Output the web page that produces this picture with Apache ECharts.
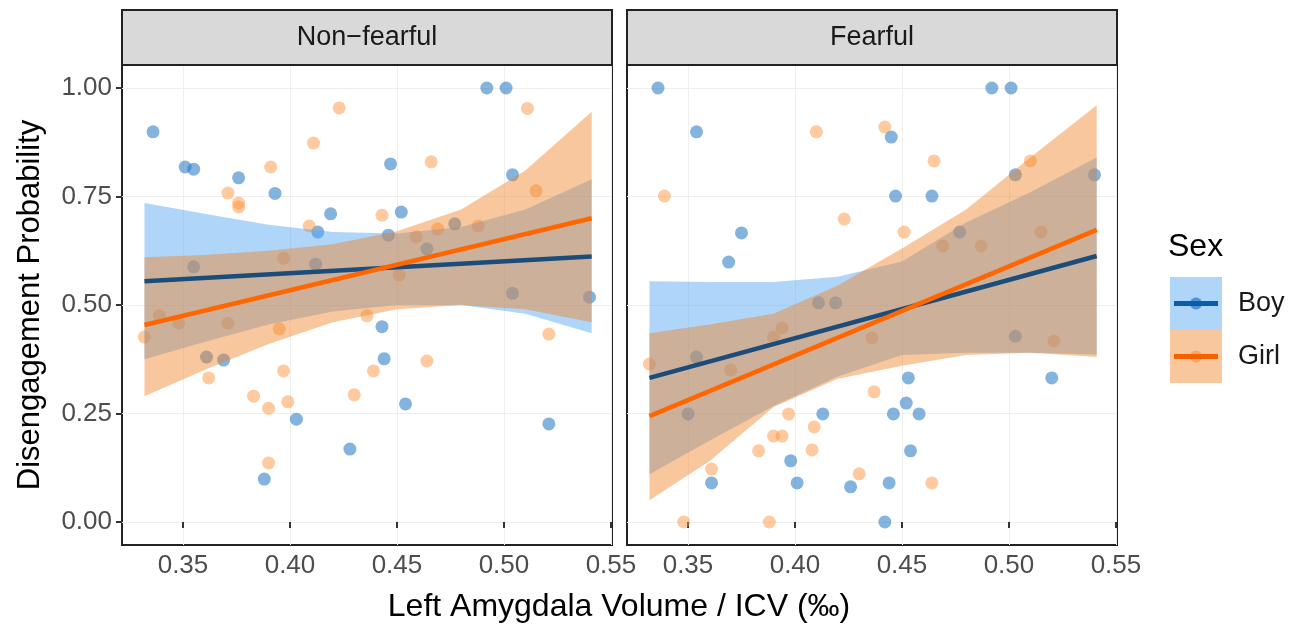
<!DOCTYPE html>
<html>
<head>
<meta charset="utf-8">
<script src="https://cdn.jsdelivr.net/npm/echarts@6/dist/echarts.min.js"></script>
<style>
html,body{margin:0;padding:0;background:#fff}
#chart{width:1295px;height:630px}
</style>
</head>
<body>
<div id="chart"></div>
<script>
// facets and ticks
const panels = ['Non\u2212fearful', 'Fearful'];
const xTicks = [0.35, 0.40, 0.45, 0.50, 0.55];
const yTicks = [0, 0.25, 0.5, 0.75, 1];

// Non-fearful points
const nfBoyX = [0.336,0.351,0.355,0.376,0.393,0.419,0.413,0.447,0.452,0.492,0.501,0.540,0.443,0.444,0.454,0.521,0.428,0.369,0.403,0.388,0.504,0.504,0.446,0.477,0.355,0.412,0.361,0.464];
const nfBoyY = [0.899,0.818,0.813,0.793,0.757,0.710,0.668,0.825,0.714,1.000,1.000,0.518,0.450,0.376,0.272,0.226,0.168,0.373,0.237,0.099,0.800,0.527,0.661,0.687,0.588,0.594,0.380,0.629];
const nfGirlX = [0.511,0.466,0.443,0.423,0.411,0.391,0.371,0.376,0.376,0.409,0.332,0.339,0.348,0.371,0.395,0.362,0.397,0.383,0.390,0.390,0.430,0.436,0.439,0.464,0.521,0.469,0.459,0.488,0.515,0.451,0.397,0.399];
const nfGirlY = [0.953,0.830,0.707,0.954,0.873,0.818,0.758,0.735,0.726,0.682,0.426,0.475,0.458,0.458,0.445,0.332,0.348,0.290,0.262,0.136,0.293,0.475,0.348,0.371,0.433,0.675,0.657,0.682,0.763,0.569,0.608,0.277];

// Fearful points
const fBoyX = [0.336,0.354,0.369,0.411,0.492,0.501,0.445,0.447,0.464,0.540,0.413,0.398,0.361,0.401,0.426,0.453,0.520,0.452,0.446,0.458,0.454,0.444,0.442,0.375,0.419,0.354,0.350,0.503,0.477,0.503];
const fBoyY = [1.000,0.899,0.599,0.505,1.000,1.000,0.887,0.751,0.751,0.800,0.249,0.141,0.090,0.090,0.081,0.332,0.332,0.274,0.249,0.249,0.164,0.090,0.000,0.666,0.505,0.380,0.249,0.428,0.668,0.800];
const fGirlX = [0.410,0.339,0.423,0.442,0.465,0.510,0.451,0.332,0.370,0.397,0.409,0.390,0.394,0.383,0.408,0.361,0.430,0.348,0.388,0.394,0.390,0.437,0.436,0.521,0.464,0.469,0.487,0.515];
const fGirlY = [0.899,0.751,0.698,0.910,0.832,0.832,0.668,0.364,0.350,0.249,0.219,0.198,0.198,0.164,0.166,0.122,0.111,0.000,0.000,0.447,0.426,0.300,0.424,0.417,0.090,0.636,0.636,0.668];

// fitted lines (end points)
const fitX = [0.332, 0.541];
const nfBoyFit = [0.555, 0.612];
const nfGirlFit = [0.454, 0.700];
const fBoyFit = [0.332, 0.613];
const fGirlFit = [0.244, 0.673];

// confidence bands read at these x
const bandX = [0.332, 0.36, 0.39, 0.42, 0.45, 0.48, 0.51, 0.541];
const nfBoyLo = [0.375, 0.415, 0.455, 0.485, 0.500, 0.500, 0.480, 0.435];
const nfBoyHi = [0.735, 0.710, 0.685, 0.668, 0.665, 0.680, 0.720, 0.790];
const nfGirlLo = [0.290, 0.350, 0.410, 0.460, 0.490, 0.500, 0.490, 0.460];
const nfGirlHi = [0.610, 0.615, 0.625, 0.640, 0.670, 0.720, 0.810, 0.945];
const fBoyLo = [0.110, 0.187, 0.267, 0.335, 0.385, 0.390, 0.390, 0.386];
const fBoyHi = [0.555, 0.553, 0.553, 0.565, 0.600, 0.690, 0.760, 0.840];
const fGirlLo = [0.050, 0.140, 0.265, 0.330, 0.360, 0.385, 0.390, 0.380];
const fGirlHi = [0.435, 0.455, 0.480, 0.545, 0.630, 0.720, 0.840, 0.960];

const boyPoint = 'rgba(35,120,195,0.7)';
const girlPoint = 'rgba(255,145,55,0.6)';
const boyBand = 'rgba(85,165,240,0.47)';
const girlBand = 'rgba(240,130,40,0.45)';
const boyLine = '#1b4c7a';
const girlLine = '#ff6600';
const font = "'Liberation Sans', Arial, sans-serif";

const zip = (xs, ys) => xs.map((x, i) => [x, ys[i]]);

function scatter(i, xs, ys, color) {
  return {
    type: 'scatter', xAxisIndex: i, yAxisIndex: i, z: 2,
    symbolSize: 13, itemStyle: { color: color },
    data: zip(xs, ys), silent: true
  };
}
function band(i, lo, hi, color) {
  return {
    type: 'custom', xAxisIndex: i, yAxisIndex: i, z: 3, silent: true,
    data: bandX.map((x, k) => [x, lo[k], hi[k]]),
    encode: { x: 0, y: [1, 2] },
    renderItem: function (params, api) {
      if (params.dataIndex !== 0) return null;
      const top = bandX.map((x, k) => api.coord([x, hi[k]]));
      const bot = bandX.map((x, k) => api.coord([x, lo[k]])).reverse();
      return {
        type: 'polygon',
        shape: { points: top.concat(bot) },
        style: { fill: color }
      };
    }
  };
}
function fit(i, ys, color) {
  return {
    type: 'line', xAxisIndex: i, yAxisIndex: i, z: 4, symbol: 'none',
    lineStyle: { color: color, width: 4.5 }, data: zip(fitX, ys), silent: true
  };
}

const gridLefts = [122, 627];
const grids = gridLefts.map(l => ({
  left: l, top: 65, width: 490, height: 480, show: true,
  borderColor: '#222', borderWidth: 2, backgroundColor: '#fff'
}));
const xAxes = gridLefts.map((l, i) => ({
  type: 'value', gridIndex: i, min: 0.3215, max: 0.5505,
  axisLine: { show: false },
  axisTick: { show: true, length: 6, lineStyle: { color: '#333', width: 2 }, customValues: xTicks },
  axisLabel: { customValues: xTicks, formatter: v => v.toFixed(2), fontSize: 26,
    color: '#4d4d4d', fontFamily: font, margin: 8 },
  splitLine: { show: true, lineStyle: { color: '#efefef', width: 1 } }
}));
const yAxes = gridLefts.map((l, i) => ({
  type: 'value', gridIndex: i, min: -0.053, max: 1.053,
  axisLine: { show: false },
  axisTick: { show: i === 0, length: 6, lineStyle: { color: '#333', width: 2 }, customValues: yTicks },
  axisLabel: { show: i === 0, customValues: yTicks, formatter: v => v.toFixed(2), fontSize: 26,
    color: '#4d4d4d', fontFamily: font, margin: 10 },
  splitLine: { show: true, lineStyle: { color: '#efefef', width: 1 } }
}));

const series = [
  scatter(0, nfBoyX, nfBoyY, boyPoint),
  scatter(0, nfGirlX, nfGirlY, girlPoint),
  scatter(1, fBoyX, fBoyY, boyPoint),
  scatter(1, fGirlX, fGirlY, girlPoint),
  band(0, nfBoyLo, nfBoyHi, boyBand),
  band(0, nfGirlLo, nfGirlHi, girlBand),
  band(1, fBoyLo, fBoyHi, boyBand),
  band(1, fGirlLo, fGirlHi, girlBand),
  fit(0, nfBoyFit, boyLine),
  fit(0, nfGirlFit, girlLine),
  fit(1, fBoyFit, boyLine),
  fit(1, fGirlFit, girlLine)
];

const graphic = [];
gridLefts.forEach((l, i) => {
  graphic.push({ type: 'rect', shape: { x: l, y: 10, width: 490, height: 55 },
    style: { fill: '#d9d9d9', stroke: '#222', lineWidth: 2 }, z: 10 });
  graphic.push({ type: 'text', x: l + 245, y: 38, z: 11,
    style: { text: panels[i], fontSize: 27, fontFamily: font, fill: '#1a1a1a',
      textAlign: 'center', textVerticalAlign: 'middle' } });
});
graphic.push({ type: 'text', x: 619, y: 607, z: 11,
  style: { text: 'Left Amygdala Volume / ICV (\u2030)', fontSize: 32, fontFamily: font,
    fill: '#000', textAlign: 'center', textVerticalAlign: 'middle' } });
graphic.push({ type: 'text', x: 30, y: 305, rotation: Math.PI / 2, z: 11,
  style: { text: 'Disengagement Probability', fontSize: 31, fontFamily: font,
    fill: '#000', textAlign: 'center', textVerticalAlign: 'middle' } });
// legend
graphic.push({ type: 'text', x: 1168, y: 247, z: 11,
  style: { text: 'Sex', fontSize: 32, fontFamily: font, fill: '#000',
    textAlign: 'left', textVerticalAlign: 'middle' } });
[['Boy', boyBand, '#0b5cad', boyPoint], ['Girl', girlBand, '#f26300', girlPoint]].forEach((k, j) => {
  const y0 = 277 + j * 53;
  graphic.push({ type: 'rect', shape: { x: 1170, y: y0, width: 52, height: 53 },
    style: { fill: k[1] }, z: 10 });
  graphic.push({ type: 'circle', shape: { cx: 1196, cy: y0 + 26.5, r: 6 },
    style: { fill: k[3] }, z: 11 });
  graphic.push({ type: 'line', shape: { x1: 1174, y1: y0 + 26.5, x2: 1218, y2: y0 + 26.5 },
    style: { stroke: k[2], lineWidth: 5 }, z: 12 });
  graphic.push({ type: 'text', x: 1238, y: y0 + 27, z: 11,
    style: { text: k[0], fontSize: 27, fontFamily: font, fill: '#1a1a1a',
      textAlign: 'left', textVerticalAlign: 'middle' } });
});

const chart = echarts.init(document.getElementById('chart'));
chart.setOption({
  animation: false,
  backgroundColor: '#fff',
  grid: grids,
  xAxis: xAxes,
  yAxis: yAxes,
  series: series,
  graphic: graphic
});
</script>
</body>
</html>
